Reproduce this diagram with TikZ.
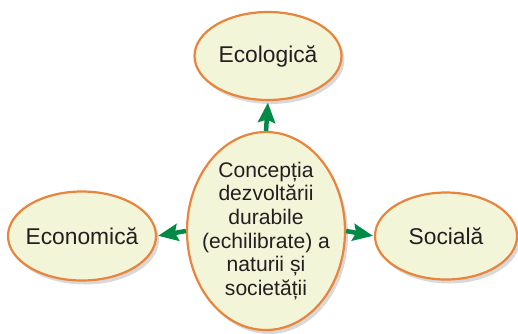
\documentclass[tikz,border=0pt]{standalone}
\usepackage{fontspec}
\setmainfont{Liberation Sans}
\usetikzlibrary{shapes.geometric,arrows.meta,shadows}
\definecolor{ovalfill}{HTML}{F3F5D8}
\definecolor{ovalline}{HTML}{E8843C}
\definecolor{arrowgreen}{HTML}{008A45}
\definecolor{txt}{HTML}{231F20}
\begin{document}
\begin{tikzpicture}[x=1pt,y=-1pt,
  oval/.style={ellipse, draw=ovalline, line width=2.2pt, fill=ovalfill, inner sep=0pt,
    drop shadow={shadow xshift=3pt, shadow yshift=-4pt, fill=black, opacity=0.15}},
  lbl/.style={text=txt, font=\fontsize{22.8}{24}\selectfont, align=center, inner sep=0pt},
  clbl/.style={lbl, font=\fontsize{21.1}{23.7}\selectfont},
  conn/.style={draw=arrowgreen, line width=4.5pt, -{Stealth[length=20pt,width=17pt,inset=3pt]}}
]
\useasboundingbox (0,0) rectangle (518,333);
\node[oval, minimum width=147pt, minimum height=88pt] (eco) at (268,56) {};
\node[oval, minimum width=148pt, minimum height=89pt] (econ) at (82,236) {};
\node[oval, minimum width=142pt, minimum height=87pt] (soc) at (446,236) {};
\node[oval, minimum width=158pt, minimum height=198pt] (c) at (266,231) {};
\node[lbl] (ecot) at (eco.center) {Ecologică};
\node[lbl] (econt) at (econ.center) {Economică};
\node[lbl] (soct) at (soc.center) {Socială};
\node[clbl] (ct) at (c.center)
  {Concepția\\dezvoltării\\durabile\\(echilibrate) a\\naturii și\\societății};
\draw[conn, shorten >=1.5pt] (c.north) -- (eco.south);
\draw[conn, shorten >=1pt] (c.west) -- (econ.east);
\draw[conn, shorten >=1pt] (c.east) -- (soc.west);
\end{tikzpicture}
\end{document}
